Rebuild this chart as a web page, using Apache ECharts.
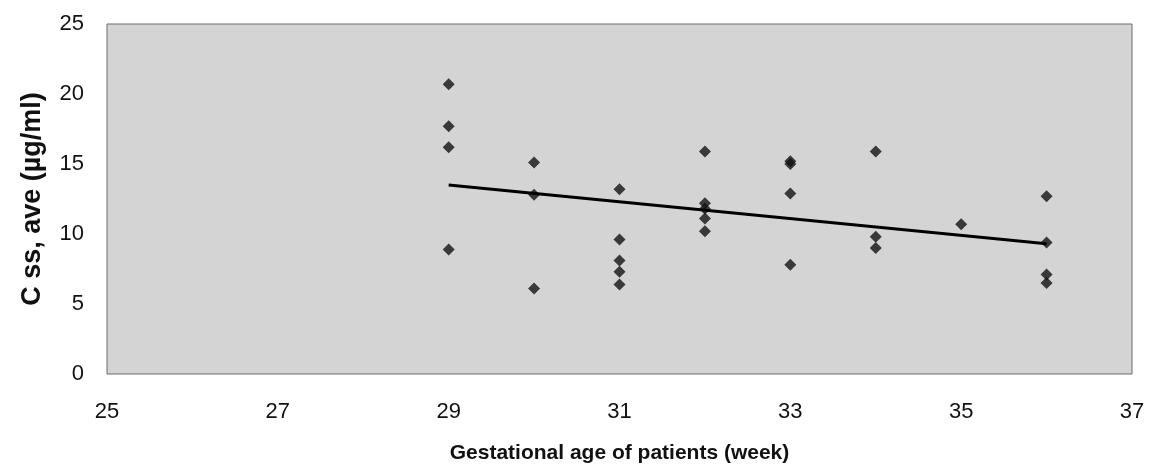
<!DOCTYPE html>
<html><head><meta charset="utf-8">
<script src="https://cdn.jsdelivr.net/npm/echarts@6/dist/echarts.min.js"></script>
<style>html,body{margin:0;padding:0;background:#fff}#c{width:1150px;height:469px}</style>
</head><body><div id="c"></div>
<script>
const weeks  = [29,29,29,29, 30,30,30, 31,31,31,31,31, 32,32,32,32,32, 33,33,33,33, 34,34,34, 35, 36,36,36,36];
const css    = [20.7,17.7,16.2,8.9, 15.1,12.8,6.1, 13.2,9.6,8.1,7.3,6.4, 15.9,12.2,11.8,11.1,10.2, 15.2,15.0,12.9,7.8, 15.9,9.8,9.0, 10.7, 12.7,9.4,7.1,6.5];
const trendX = [29, 36];
const trendY = [13.5, 9.3];
const xTicks = [25,27,29,31,33,35,37];
const yTicks = [0,5,10,15,20,25];

const chart = echarts.init(document.getElementById('c'));
chart.setOption({
  animation:false,
  backgroundColor:'#fff',
  grid:{left:107,right:18,top:24,bottom:95,containLabel:false,outerBoundsMode:'none',
        show:true,backgroundColor:'#d4d4d4',borderColor:'#6a6a6a',borderWidth:1},
  xAxis:{type:'value',min:xTicks[0],max:xTicks[xTicks.length-1],interval:2,
    name:'Gestational age of patients (week)',nameLocation:'middle',nameGap:69,
    nameTextStyle:{fontFamily:'Liberation Sans',fontWeight:'bold',fontSize:21,color:'#111'},
    axisLine:{show:false},axisTick:{show:false},splitLine:{show:false},
    axisLabel:{margin:27,fontFamily:'Liberation Sans',fontSize:22,color:'#111'}},
  yAxis:{type:'value',min:yTicks[0],max:yTicks[yTicks.length-1],interval:5,
    name:'C ss, ave (µg/ml)',nameLocation:'middle',nameGap:61,
    nameTextStyle:{fontFamily:'Liberation Sans',fontWeight:'bold',fontSize:27,color:'#111'},
    axisLine:{show:false},axisTick:{show:false},splitLine:{show:false},
    axisLabel:{margin:23,fontFamily:'Liberation Sans',fontSize:22,color:'#111'}},
  series:[
    {type:'scatter',data:weeks.map((w,i)=>[w,css[i]]),symbol:'diamond',symbolSize:12,
     itemStyle:{color:'#111'}},
    {type:'line',data:trendX.map((w,i)=>[w,trendY[i]]),symbol:'none',
     lineStyle:{color:'#000',width:3}}
  ]
});
</script></body></html>
